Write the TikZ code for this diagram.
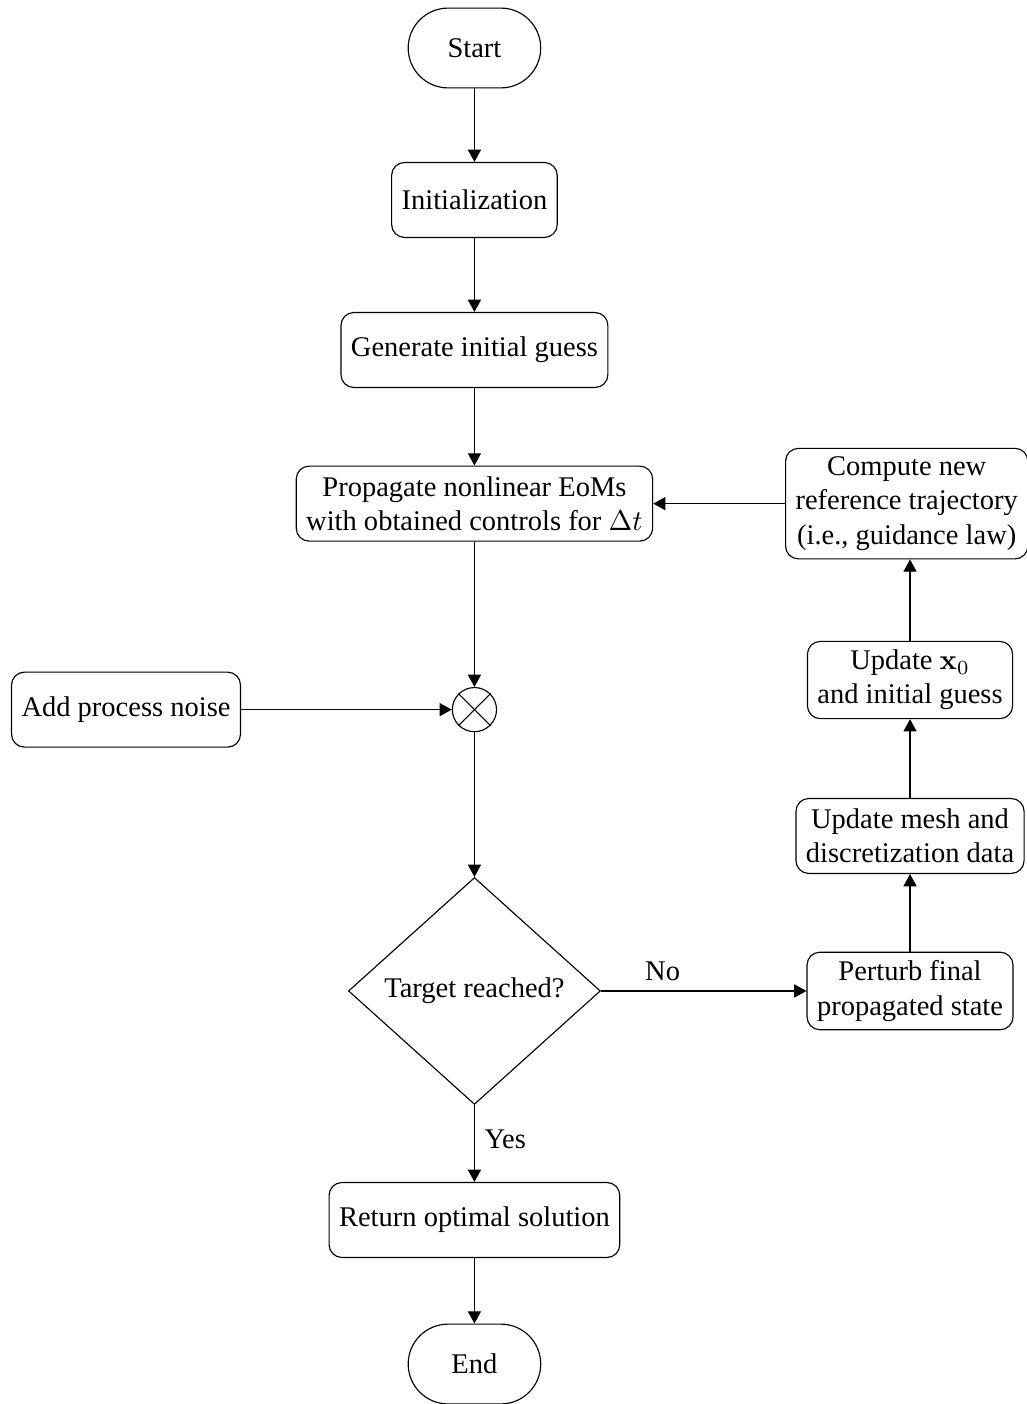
\documentclass[tikz,border=0pt]{standalone}
\usepackage[no-math]{fontspec}
\setmainfont{Liberation Serif}
\usetikzlibrary{arrows.meta}
\usetikzlibrary{shapes.geometric}

\begin{document}
\begin{tikzpicture}
[-{Triangle[length=4.3pt,width=4.6pt]},thin,%
  every node/.style={font=\normalsize},%
  procbox/.style={draw,rectangle,rounded corners=4.5pt,align=center,%
    inner xsep=3.5pt,inner ysep=3pt,minimum height=26.3pt},%
  termbox/.style={draw,rectangle,rounded corners=14pt,%
    minimum width=46.5pt,minimum height=28pt},%
  decbox/.style={draw,diamond,inner sep=0pt,%
    minimum width=88.4pt,minimum height=79.6pt},%
  sumnode/.style={draw,circle,inner sep=0pt,minimum size=15.5pt}]
\useasboundingbox (0,0) rectangle (12.663,-17.312);
% main column
\node[termbox] (start) at (5.85,-0.592) {Start};
\node[procbox] (init) at (5.85,-2.466) {Initialization};
\node[procbox] (guess) at (5.85,-4.316) {Generate initial guess};
\node[procbox] (prop) at (5.85,-6.21)
  {Propagate nonlinear EoMs\\with obtained controls for $\Delta t$};
\node[sumnode] (sum) at (5.85,-8.75) {};
\node[decbox] (target) at (5.85,-12.219) {Target reached?};
\node[procbox] (ret) at (5.85,-15.043) {Return optimal solution};
\node[termbox] (end) at (5.85,-16.819) {End};
% noise input
\node[procbox] (noise) at (1.554,-8.75) {Add process noise};
% update loop on the right
\node[procbox] (pert) at (11.221,-12.219) {Perturb final\\propagated state};
\node[procbox] (mesh) at (11.221,-10.308) {Update mesh and\\discretization data};
\node[procbox] (upx) at (11.221,-8.385) {Update $\mathbf{x}_0$\\and initial guess};
\node[procbox] (comp) at (11.18,-6.21)
  {Compute new\\reference trajectory\\(i.e., guidance law)};
% cross inside the summing circle
\draw[-] (sum.north west) -- (sum.south east);
\draw[-] (sum.north east) -- (sum.south west);
% connectors
\draw (start) -- (init);
\draw (init) -- (guess);
\draw (guess) -- (prop);
\draw (prop) -- (sum);
\draw (noise) -- (sum);
\draw (sum) -- (target);
\draw (target) -- node[above,pos=0.3] {No} (pert);
\draw (target) -- node[right,pos=0.45] {Yes} (ret);
\draw (ret) -- (end);
\draw (pert) -- (mesh);
\draw (mesh) -- (upx);
\draw (upx) -- (upx |- comp.south);
\draw (comp) -- (prop);
\end{tikzpicture}
\end{document}
